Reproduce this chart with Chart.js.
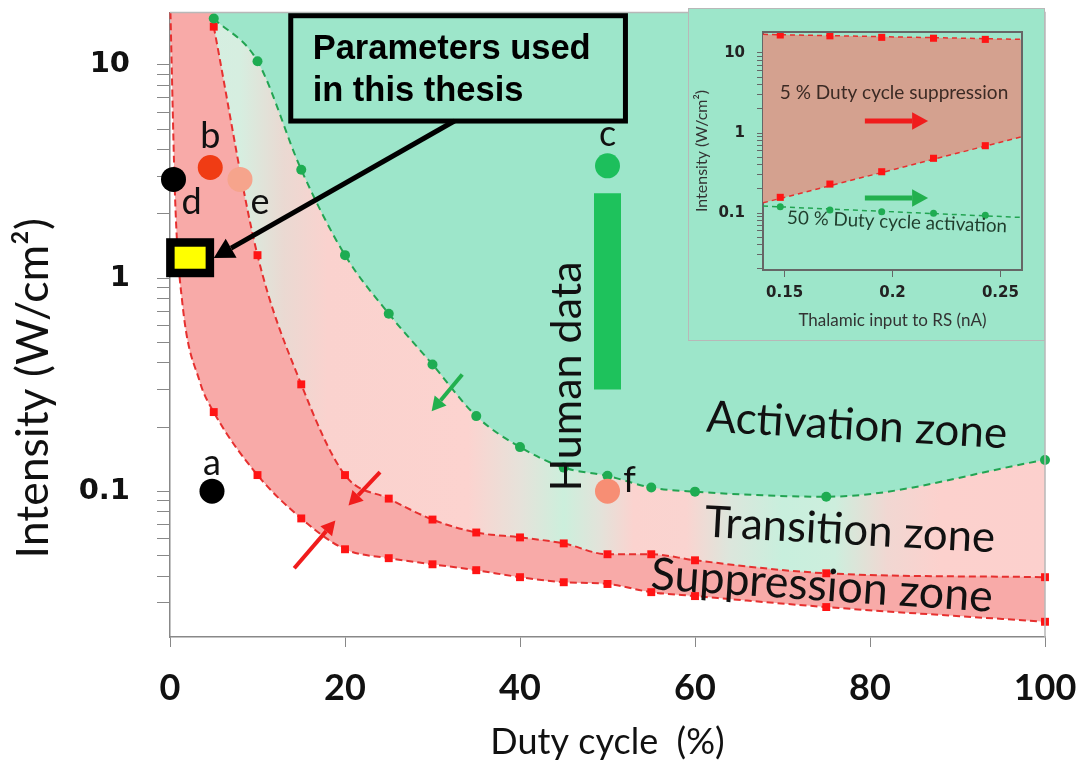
<!DOCTYPE html>
<html>
<head>
<meta charset="utf-8">
<script src="https://cdn.jsdelivr.net/npm/chart.js@4.4.1/dist/chart.umd.min.js"></script>
<style>
  html, body { margin: 0; padding: 0; background: #fff; }
  #wrap { position: relative; width: 1079px; height: 764px; }
  #main { position: absolute; left: 0; top: 0; }
  #inset { position: absolute; left: 688px; top: 8px; }
</style>
</head>
<body>
<div id="wrap">
  <canvas id="main" width="1079" height="764"></canvas>
  <canvas id="inset" width="357" height="333"></canvas>
</div>
<script>
// ---- main chart data ----
const dutyCycle = [5, 10, 15, 20, 25, 30, 35, 40, 45, 50, 55, 60, 75, 100];
// lower edge of the suppression zone (first four values trace the curve near the axis, no markers)
const supLowX = [0.05, 0.6, 1.4, 3.4, 5, 10, 15, 20, 25, 30, 35, 40, 45, 50, 55, 60, 75, 100];
const supLowY = [17.6, 2.26, 0.77, 0.327, 0.235, 0.119, 0.0745, 0.0534, 0.0485, 0.0454, 0.0426, 0.0395, 0.0374, 0.0367, 0.0336, 0.0322, 0.0286, 0.0244];
// suppression / transition boundary
const supHighY = [15.1, 1.28, 0.317, 0.119, 0.0923, 0.0736, 0.064, 0.0607, 0.0569, 0.0506, 0.0506, 0.0474, 0.0412, 0.0395];
// activation boundary
const actY = [16.5, 10.4, 3.22, 1.28, 0.68, 0.393, 0.225, 0.161, 0.129, 0.118, 0.104, 0.0995, 0.0942, 0.140];

const markLabels = ['a', 'b', 'c', 'd', 'e', 'f'];
const markX = [4.8, 4.6, 50, 0.4, 8, 50];
const markY = [0.1, 3.3, 3.36, 2.9, 2.9, 0.1];
const markColors = ['#000000', '#f03c14', '#1dbf5c', '#000000', '#f6a48c', '#f78e74'];

const humanX = 50;
const humanRange = [0.30, 2.5];
const thesisX = 2.3, thesisY = 1.245;

const xTickLabels = [0, 20, 40, 60, 80, 100];
const yTickLabels = [0.1, 1, 10];

// ---- inset data ----
const thalamic = [0.148, 0.171, 0.195, 0.219, 0.243];
const inSupTop = [16.8, 16.4, 15.7, 15.3, 14.8];
const inSupBottom = [0.157, 0.230, 0.328, 0.483, 0.694];
const inAct = [0.120, 0.109, 0.104, 0.099, 0.094];
const insetEdgeX = [0.14, 0.26];
const inSupTopEdge = [17.1, 14.8];
const inSupBottomEdge = [0.134, 0.90];
const inActEdge = [0.122, 0.088];
const insetXTicks = [0.15, 0.2, 0.25];

const MINT = '#9de6ca';
const PINK = '#f8aaa8';
const RED = '#e6302f';
const GREEN = '#22a452';

function logMarks(min, max) {
    const out = [];
    [0.01, 0.1, 1, 10].forEach(function (d) {
        for (let m = 1; m <= 9; m++) {
            const v = +(m * d).toPrecision(3);
            if (v >= min && v <= max) out.push({ value: v });
        }
    });
    return out;
}

function pts(xs, ys) {
    return xs.map((x, i) => ({ x: x, y: ys[i] }));
}

// no extra room for the first/last tick labels
function noEdgePad(s) {
    s.paddingTop = 0;
    s.paddingBottom = 0;
    s.paddingLeft = 0;
    s.paddingRight = 0;
}

function arrow(ctx, x1, y1, x2, y2, color, w, head) {
    const a = Math.atan2(y2 - y1, x2 - x1);
    const bx = x2 - head * Math.cos(a), by = y2 - head * Math.sin(a);
    ctx.strokeStyle = color;
    ctx.fillStyle = color;
    ctx.lineWidth = w;
    ctx.lineCap = 'butt';
    ctx.beginPath();
    ctx.moveTo(x1, y1);
    ctx.lineTo(bx, by);
    ctx.stroke();
    const hw = head * 0.55;
    ctx.beginPath();
    ctx.moveTo(x2, y2);
    ctx.lineTo(bx + hw * Math.sin(a), by - hw * Math.cos(a));
    ctx.lineTo(bx - hw * Math.sin(a), by + hw * Math.cos(a));
    ctx.closePath();
    ctx.fill();
}

// text fitted to a width in pixels, rotated around its centre
function fitText(ctx, text, cx, cy, width, rot, family, color) {
    ctx.save();
    ctx.font = '100px ' + family;
    const size = 100 * width / ctx.measureText(text).width;
    ctx.font = size.toFixed(1) + 'px ' + family;
    ctx.translate(cx, cy);
    ctx.rotate(rot * Math.PI / 180);
    ctx.fillStyle = color;
    ctx.textAlign = 'center';
    ctx.textBaseline = 'middle';
    ctx.fillText(text, 0, 0);
    ctx.restore();
}

const transitionStops = [
    [0, '#d4efe2'], [8, '#d6eee0'], [13, '#ead9d2'], [18, '#fad2ce'], [34, '#fcd3cf'],
    [40, '#e6e2da'], [45, '#ccefdc'], [49, '#e2e3da'], [53, '#fbd3cf'], [59, '#fad4d0'],
    [64, '#dce6dc'], [70, '#c8efdd'], [76, '#cdeedd'], [82, '#f1d7d2'], [88, '#fcd1cd'], [100, '#fcd0cd']
];

function transitionFill(ctx) {
    const chart = ctx.chart;
    const area = chart.chartArea;
    if (!area) return '#fcd3cf';
    const xs = chart.scales.x;
    const g = chart.ctx.createLinearGradient(area.left, 0, area.right, 0);
    transitionStops.forEach(function (s) {
        const f = (xs.getPixelForValue(s[0]) - area.left) / (area.right - area.left);
        g.addColorStop(Math.min(1, Math.max(0, f)), s[1]);
    });
    return g;
}

const zoneLabels = [
    { text: 'Activation zone', x: 78.5, y: 0.203, w: 301, rot: 3.2 },
    { text: 'Transition zone', x: 77.7, y: 0.0655, w: 291, rot: 3.1 },
    { text: 'Suppression zone', x: 74.5, y: 0.0359, w: 343, rot: 3.8 }
];
const markLabelOffset = [[0, -28], [0, -31], [0, -31], [18, 23], [20, 23], [22, -11]];

const mainDecor = {
    id: 'mainDecor',
    afterDatasetsDraw(chart) {
        const ctx = chart.ctx;
        const xs = chart.scales.x, ys = chart.scales.y;
        const X = v => xs.getPixelForValue(v);
        const Y = v => ys.getPixelForValue(v);
        const area = chart.chartArea;
        ctx.save();
        // frame top / right
        ctx.strokeStyle = '#b8b8b8';
        ctx.lineWidth = 1.5;
        ctx.beginPath();
        ctx.moveTo(area.left, area.top);
        ctx.lineTo(area.right, area.top);
        ctx.lineTo(area.right, area.bottom);
        ctx.stroke();

        // y axis title sits lower than the axis centre in the original
        fitText(ctx, 'Intensity (W/cm²)', 34, Y(0.304), 340, -90, 'Lato', '#111');

        // zone names
        zoneLabels.forEach(z => fitText(ctx, z.text, X(z.x), Y(z.y), z.w, z.rot, 'Lato', '#111'));
        fitText(ctx, 'Human data', X(45.4), Y(0.345), 230, -90, 'Lato', '#111');

        // point letters
        ctx.font = '36px Lato';
        ctx.fillStyle = '#111';
        ctx.textAlign = 'center';
        ctx.textBaseline = 'middle';
        markLabels.forEach(function (t, i) {
            ctx.fillText(t, X(markX[i]) + markLabelOffset[i][0], Y(markY[i]) + markLabelOffset[i][1]);
        });

        // small arrows
        arrow(ctx, X(33.4), Y(0.353), X(29.9), Y(0.237), '#22b04e', 4, 14);
        arrow(ctx, X(24.0), Y(0.123), X(20.4), Y(0.0856), '#f01c1c', 4, 14);
        arrow(ctx, X(14.2), Y(0.0435), X(18.9), Y(0.0728), '#f01c1c', 4, 14);

        // callout box
        const bx0 = X(13.8), bx1 = X(52.05), by0 = Y(17.0), by1 = Y(5.45);
        ctx.fillStyle = MINT;
        ctx.fillRect(bx0, by0, bx1 - bx0, by1 - by0);
        ctx.strokeStyle = '#000';
        ctx.lineWidth = 5;
        ctx.strokeRect(bx0, by0, bx1 - bx0, by1 - by0);
        ctx.fillStyle = '#000';
        ctx.font = 'bold 34.5px "Liberation Sans"';
        ctx.textAlign = 'left';
        ctx.textBaseline = 'alphabetic';
        ctx.fillText('Parameters used', X(16.3), Y(10.7));
        ctx.fillText('in this thesis', X(16.3), Y(6.76));
        arrow(ctx, X(32.5), by1, X(5.0), Y(1.24), '#000', 5, 20);

        // yellow marker
        const cx = X(thesisX), cy = Y(thesisY);
        ctx.fillStyle = '#000';
        ctx.fillRect(cx - 24, cy - 19.5, 48, 39);
        ctx.fillStyle = '#ffff00';
        ctx.fillRect(cx - 15.5, cy - 11, 31, 22);
        ctx.restore();
    }
};

const dashedLine = {
    borderWidth: 2,
    borderDash: [7, 4],
    pointBorderWidth: 0,
    cubicInterpolationMode: 'monotone',
    clip: false
};

new Chart(document.getElementById('main'), {
    type: 'line',
    data: {
        datasets: [
            Object.assign({}, dashedLine, {
                data: pts(supLowX, supLowY),
                borderColor: RED,
                backgroundColor: PINK,
                fill: 'end',
                pointStyle: 'rect',
                pointRadius: ctx => (ctx.raw && ctx.raw.x >= 5 ? 5.6 : 0),
                pointBackgroundColor: '#ff1414',
                order: 5
            }),
            Object.assign({}, dashedLine, {
                data: pts(dutyCycle, supHighY),
                borderColor: RED,
                backgroundColor: transitionFill,
                fill: 'end',
                pointStyle: 'rect',
                pointRadius: 5.6,
                pointBackgroundColor: '#ff1414',
                order: 4
            }),
            Object.assign({}, dashedLine, {
                data: pts(dutyCycle, actY),
                borderColor: GREEN,
                borderWidth: 2,
                borderDash: [7, 5],
                backgroundColor: MINT,
                fill: 'end',
                pointStyle: 'circle',
                pointRadius: 5,
                pointBackgroundColor: '#1eac52',
                order: 3
            }),
            {
                data: pts([humanX, humanX], humanRange),
                borderColor: '#1ec25c',
                borderWidth: 27,
                borderCapStyle: 'butt',
                pointRadius: 0,
                fill: false,
                order: 2
            },
            {
                data: pts(markX, markY),
                showLine: false,
                pointRadius: 12.5,
                pointBackgroundColor: markColors,
                pointBorderWidth: 0,
                clip: false,
                order: 1
            }
        ]
    },
    options: {
        responsive: false,
        animation: false,
        events: [],
        layout: { padding: { top: 9, right: 34, left: 0, bottom: 0 } },
        plugins: { legend: { display: false }, tooltip: { enabled: false } },
        scales: {
            x: {
                type: 'linear',
                min: 0,
                max: 100,
                afterBuildTicks: s => { s.ticks = xTickLabels.map(v => ({ value: v })); },
                afterFit: s => { s.height = 127; noEdgePad(s); },
                ticks: {
                    font: { family: 'Lato', weight: 'bold', size: 36 },
                    color: '#111',
                    padding: 20,
                    maxRotation: 0
                },
                grid: { drawOnChartArea: false, tickLength: 10, color: '#888' },
                border: { color: '#888', width: 1.5 },
                title: {
                    display: true,
                    text: 'Duty cycle  (%)',
                    font: { family: 'Lato', size: 36 },
                    color: '#111',
                    padding: { top: 0, bottom: 0 }
                }
            },
            y: {
                type: 'logarithmic',
                min: 0.0207,
                max: 17.6,
                afterBuildTicks: s => { s.ticks = logMarks(0.0207, 17.6); },
                afterFit: s => { s.width = 170; noEdgePad(s); },
                ticks: {
                    autoSkip: false,
                    font: { family: 'DejaVu Sans', weight: 'bold', size: 29 },
                    color: '#111',
                    padding: 27,
                    callback: v => (yTickLabels.includes(v) ? String(v) : '')
                },
                grid: { drawOnChartArea: false, tickLength: 13, color: '#888' },
                border: { color: '#888', width: 1.5 },
                title: { display: false }
            }
        }
    },
    plugins: [mainDecor]
});

// ---- inset ----
const insetDecor = {
    id: 'insetDecor',
    beforeDraw(chart) {
        const ctx = chart.ctx;
        ctx.save();
        ctx.fillStyle = MINT;
        ctx.fillRect(0, 0, chart.width, chart.height);
        ctx.strokeStyle = '#b8b8b8';
        ctx.lineWidth = 1;
        ctx.strokeRect(0.5, 0.5, chart.width - 1, chart.height - 1);
        ctx.restore();
    },
    afterDatasetsDraw(chart) {
        const ctx = chart.ctx;
        const xs = chart.scales.x, ys = chart.scales.y;
        const X = v => xs.getPixelForValue(v);
        const Y = v => ys.getPixelForValue(v);
        const area = chart.chartArea;
        ctx.save();
        ctx.strokeStyle = '#666';
        ctx.lineWidth = 2;
        ctx.beginPath();
        ctx.moveTo(area.left, area.top);
        ctx.lineTo(area.right, area.top);
        ctx.lineTo(area.right, area.bottom);
        ctx.stroke();
        fitText(ctx, '5 % Duty cycle suppression', X(0.2007), Y(3.16), 228, 0, 'Lato', '#3b2a24');
        fitText(ctx, '50 % Duty cycle activation', X(0.2021), Y(0.0772), 220, 2.2, 'Lato', '#1f3d2c');
        arrow(ctx, X(0.1872), Y(1.41), X(0.2165), Y(1.41), '#f01c1c', 5, 16);
        arrow(ctx, X(0.1872), Y(0.154), X(0.2165), Y(0.154), '#22b04e', 5, 16);
        ctx.restore();
    }
};

new Chart(document.getElementById('inset'), {
    type: 'line',
    data: {
        datasets: [
            {
                data: pts(insetEdgeX, inSupTopEdge),
                borderColor: RED, borderWidth: 1.5, borderDash: [5, 4],
                backgroundColor: '#d4a18f', fill: '+1', pointRadius: 0, order: 6
            },
            {
                data: pts(insetEdgeX, inSupBottomEdge),
                borderColor: RED, borderWidth: 1.5, borderDash: [5, 4],
                fill: false, pointRadius: 0, order: 5
            },
            {
                data: pts(insetEdgeX, inActEdge),
                borderColor: GREEN, borderWidth: 1.5, borderDash: [5, 4],
                fill: false, pointRadius: 0, order: 4
            },
            {
                data: pts(thalamic, inSupTop), showLine: false,
                pointStyle: 'rect', pointRadius: 5, pointBackgroundColor: '#ff1414', pointBorderWidth: 0, order: 1
            },
            {
                data: pts(thalamic, inSupBottom), showLine: false,
                pointStyle: 'rect', pointRadius: 5, pointBackgroundColor: '#ff1414', pointBorderWidth: 0, order: 1
            },
            {
                data: pts(thalamic, inAct), showLine: false,
                pointStyle: 'circle', pointRadius: 3.5, pointBackgroundColor: '#1eac52', pointBorderWidth: 0, order: 1
            }
        ]
    },
    options: {
        responsive: false,
        animation: false,
        events: [],
        layout: { padding: { top: 24, right: 23, left: 0, bottom: 0 } },
        plugins: { legend: { display: false }, tooltip: { enabled: false } },
        scales: {
            x: {
                type: 'linear',
                min: 0.14,
                max: 0.26,
                afterBuildTicks: s => { s.ticks = insetXTicks.map(v => ({ value: v })); },
                afterFit: s => { s.height = 71; noEdgePad(s); },
                ticks: {
                    font: { family: 'DejaVu Sans', weight: 'bold', size: 15 },
                    color: '#222',
                    padding: 7,
                    maxRotation: 0,
                    callback: v => String(v)
                },
                grid: { drawOnChartArea: false, tickLength: 7, color: '#666' },
                border: { color: '#666', width: 2 },
                title: {
                    display: true,
                    text: 'Thalamic input to RS (nA)',
                    font: { family: 'Lato', size: 17 },
                    color: '#333',
                    padding: { top: 0, bottom: 10 }
                }
            },
            y: {
                type: 'logarithmic',
                min: 0.0194,
                max: 18.3,
                afterBuildTicks: s => { s.ticks = logMarks(0.0194, 18.3); },
                afterFit: s => { s.width = 75; noEdgePad(s); },
                ticks: {
                    autoSkip: false,
                    font: { family: 'DejaVu Sans', weight: 'bold', size: 15 },
                    color: '#222',
                    padding: 12,
                    callback: v => (yTickLabels.includes(v) ? String(v) : '')
                },
                grid: { drawOnChartArea: false, tickLength: 6, color: '#666' },
                border: { color: '#666', width: 2 },
                title: {
                    display: true,
                    text: 'Intensity (W/cm²)',
                    font: { family: 'Lato', size: 16 },
                    color: '#333',
                    padding: { top: 4, bottom: 0 }
                }
            }
        }
    },
    plugins: [insetDecor]
});
</script>
</body>
</html>
